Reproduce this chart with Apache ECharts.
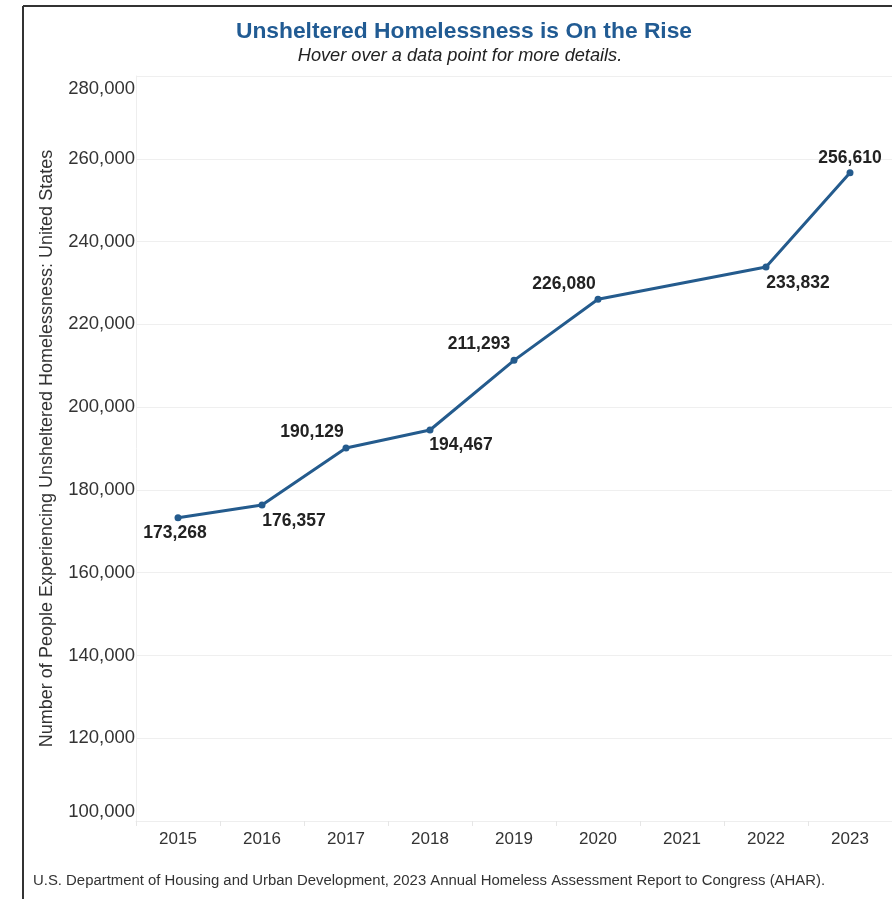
<!DOCTYPE html>
<html>
<head>
<meta charset="utf-8">
<script src="https://cdn.jsdelivr.net/npm/echarts@6/dist/echarts.min.js"></script>
<style>
html,body{margin:0;padding:0;background:#fff;}
#chart{width:892px;height:899px;}
</style>
</head>
<body>
<div id="chart"></div>
<script>
const years = ['2015','2016','2017','2018','2019','2020','2021','2022','2023'];
const unsheltered = [173268, 176357, 190129, 194467, 211293, 226080, null, 233832, 256610];
const yTicks = [100000, 120000, 140000, 160000, 180000, 200000, 220000, 240000, 260000, 280000];

const titleText = 'Unsheltered Homelessness is On the Rise';
const subtitleText = 'Hover over a data point for more details.';
const yAxisTitle = 'Number of People Experiencing Unsheltered Homelessness: United States';
const sourceText = 'U.S. Department of Housing and Urban Development, 2023 Annual Homeless Assessment Report to Congress (AHAR).';

// label placement (layout only): offset of label centre from point
const labelShift = [[-3,15],[32,16],[-34,-16],[31,15],[-35,-16],[-34,-15],[0,0],[32,16],[0,-15]];

const fmt = v => v.toLocaleString('en-US');
const chart = echarts.init(document.getElementById('chart'));
const FONT = '"Liberation Sans", Arial, sans-serif';

chart.setOption({
  animation: false,
  textStyle: {fontFamily: FONT},
  grid: {left: 136, top: 76, width: 761, height: 745, containLabel: false},
  xAxis: {
    type: 'category',
    data: years,
    boundaryGap: true,
    axisLine: {show: true, lineStyle: {color: '#eeeeee'}},
    axisTick: {show: true, length: 5, lineStyle: {color: '#e6e6e6'}},
    axisLabel: {color: '#333', fontSize: 17, margin: 10, fontFamily: FONT}
  },
  yAxis: {
    type: 'value',
    min: yTicks[0],
    max: yTicks[yTicks.length-1],
    interval: yTicks[1]-yTicks[0],
    name: yAxisTitle,
    nameLocation: 'middle',
    nameGap: 80,
    nameTextStyle: {color: '#333', fontSize: 18, fontFamily: FONT},
    axisLine: {show: true, lineStyle: {color: '#eeeeee'}},
    axisTick: {show: false},
    splitLine: {lineStyle: {color: '#efefef'}},
    axisLabel: {
      color: '#333', fontSize: 18.5, margin: 1, fontFamily: FONT,
      formatter: v => {
        if (v === yTicks[yTicks.length-1]) return '{t|' + fmt(v) + '}';
        if (v === yTicks[0]) return '{b|' + fmt(v) + '}';
        return fmt(v);
      },
      rich: {
        t: {color: '#333', fontSize: 18.5, fontFamily: FONT, padding: [26,0,0,0]},
        b: {color: '#333', fontSize: 18.5, fontFamily: FONT, padding: [0,0,18,0]}
      }
    }
  },
  series: [{
    type: 'line',
    data: unsheltered.map((v, i) => ({
      value: v,
      label: {position: 'inside', offset: labelShift[i]}
    })),
    connectNulls: true,
    symbol: 'circle',
    symbolSize: 7,
    lineStyle: {color: '#245b8d', width: 3},
    itemStyle: {color: '#245b8d'},
    label: {
      show: true,
      formatter: p => fmt(p.value),
      color: '#222',
      fontSize: 17.5,
      fontWeight: 'bold',
      fontFamily: FONT
    }
  }],
  graphic: [
    {type: 'line', shape: {x1: 23, y1: 6, x2: 892, y2: 6}, style: {stroke: '#333', lineWidth: 2}},
    {type: 'line', shape: {x1: 23, y1: 6, x2: 23, y2: 899}, style: {stroke: '#333', lineWidth: 2}},
    {type: 'text', x: 464, y: 32, style: {text: titleText, fill: '#215b93', font: 'bold 22.8px ' + FONT, textAlign: 'center', textVerticalAlign: 'middle'}},
    {type: 'text', x: 460, y: 56, style: {text: subtitleText, fill: '#222', font: 'italic 18.2px ' + FONT, textAlign: 'center', textVerticalAlign: 'middle'}},
    {type: 'text', x: 33, y: 881, style: {text: sourceText, fill: '#333', font: '14.9px ' + FONT, textAlign: 'left', textVerticalAlign: 'middle'}}
  ]
});
</script>
</body>
</html>
